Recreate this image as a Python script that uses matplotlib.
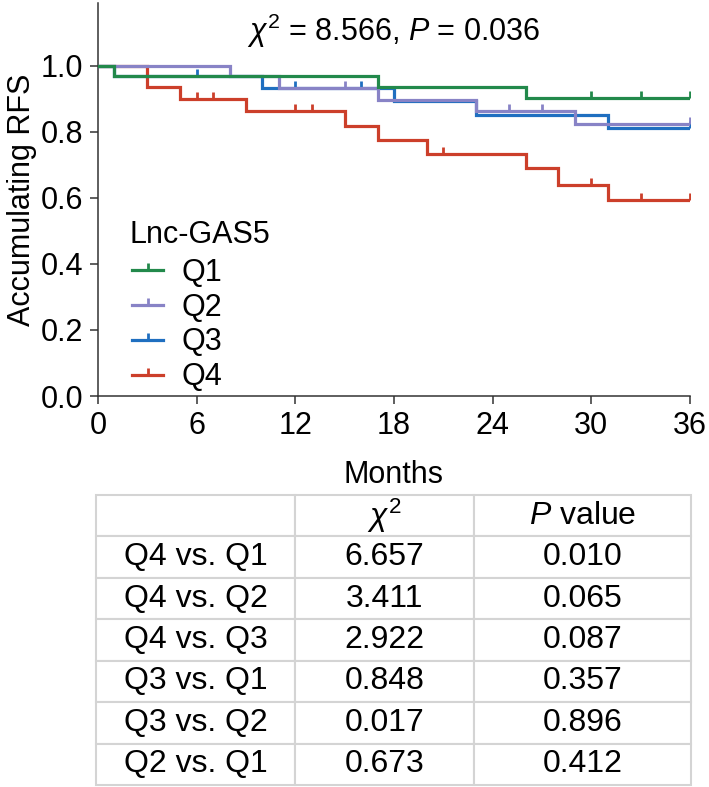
import matplotlib.pyplot as plt
import numpy as np
from matplotlib.lines import Line2D

plt.rcParams["font.family"] = ["Liberation Sans", "DejaVu Sans"]
plt.rcParams["mathtext.fontset"] = "custom"
plt.rcParams["mathtext.it"] = "Liberation Sans:italic"
plt.rcParams["mathtext.rm"] = "Liberation Sans"

# Kaplan-Meier steps (months, survival)
q1_t = [0, 1, 17, 26, 36]
q1_s = [1.0, 0.968, 0.935, 0.902, 0.902]
q1_c = [30, 33, 36]

q2_t = [0, 8, 11, 17, 23, 29, 36]
q2_s = [1.0, 0.968, 0.933, 0.897, 0.862, 0.825, 0.825]
q2_c = [15, 25, 27, 36]

q3_t = [0, 1, 10, 18, 23, 31, 36]
q3_s = [1.0, 0.968, 0.933, 0.892, 0.852, 0.810, 0.810]
q3_c = [6, 12, 16, 36]

q4_t = [0, 3, 5, 9, 15, 17, 20, 26, 28, 31, 36]
q4_s = [1.0, 0.935, 0.900, 0.864, 0.819, 0.776, 0.733, 0.690, 0.640, 0.593, 0.593]
q4_c = [6, 7, 12, 13, 21, 30, 33, 36]

groups = ["Q1", "Q2", "Q3", "Q4"]
colors = ["#22894b", "#8883c6", "#1f6fc0", "#cc3f2a"]

comparisons = ["Q4 vs. Q1", "Q4 vs. Q2", "Q4 vs. Q3", "Q3 vs. Q1", "Q3 vs. Q2", "Q2 vs. Q1"]
chi2 = ["6.657", "3.411", "2.922", "0.848", "0.017", "0.673"]
pvals = ["0.010", "0.065", "0.087", "0.357", "0.896", "0.412"]

W, H = 709, 787
fig = plt.figure(figsize=(W / 100, H / 100), dpi=100)
ax = fig.add_axes([98 / W, (H - 396) / H, 592 / W, 393 / H])

curves = [(q1_t, q1_s, q1_c), (q2_t, q2_s, q2_c), (q3_t, q3_s, q3_c), (q4_t, q4_s, q4_c)]
zorders = [5, 4, 3, 2]
for (t, s, c), col, z in zip(curves, colors, zorders):
    ax.step(t, s, where="post", color=col, lw=2.3, zorder=z, solid_joinstyle="miter")
    idx = np.searchsorted(t, c, side="right") - 1
    ax.plot(c, np.array(s)[idx], ls="none", marker=2, ms=5, mew=2.0, color=col, zorder=z)

ax.set_xlim(0, 36)
ax.set_ylim(0, 1.19)
ax.set_xticks(np.arange(0, 37, 6))
ax.set_yticks(np.arange(0, 1.01, 0.2))
ax.set_yticklabels([f"{v:.1f}" for v in np.arange(0, 1.01, 0.2)])
ax.spines["top"].set_visible(False)
ax.spines["right"].set_visible(False)
for sp in ("left", "bottom"):
    ax.spines[sp].set_linewidth(1.1)
    ax.spines[sp].set_color("#333333")
ax.tick_params(direction="out", length=5.5, width=1.1, color="#333333", labelsize=22, pad=5)
ax.set_xlabel("Months", fontsize=22, labelpad=14)
ax.set_ylabel("Accumulating RFS", fontsize=22, labelpad=3)

ax.text(0.5, 0.93, r"$\chi^2$ = 8.566, $P$ = 0.036", transform=ax.transAxes,
        ha="center", va="center", fontsize=22)

# legend: title as its own text, entries below it
ax.text(0.054, 0.41, "Lnc-GAS5", transform=ax.transAxes, ha="left", va="center", fontsize=22)
handles = [Line2D([], [], color=col, lw=2.3, marker=2, ms=5, mew=2.0) for col in colors]
ax.legend(handles, groups, loc="upper left", bbox_to_anchor=(0.058, 0.352),
          frameon=False, fontsize=22, handlelength=1.0, handletextpad=0.6,
          labelspacing=0.16, borderpad=0, borderaxespad=0)

# comparison table
tax = fig.add_axes([96 / W, 2 / H, 595 / W, 290 / H])
tax.axis("off")
rows = [["", r"$\chi^2$", r"$P$ value"]] + [[a, b, c] for a, b, c in zip(comparisons, chi2, pvals)]
tbl = tax.table(cellText=rows, cellLoc="center", bbox=[0, 0, 1, 1],
                colWidths=[0.335, 0.3, 0.365])
tbl.auto_set_font_size(False)
for (r, cidx), cell in tbl.get_celld().items():
    cell.set_edgecolor("#d4d4d4")
    cell.set_linewidth(1.5)
    cell.get_text().set_fontsize(23)

fig.savefig("out.png", dpi=100)
